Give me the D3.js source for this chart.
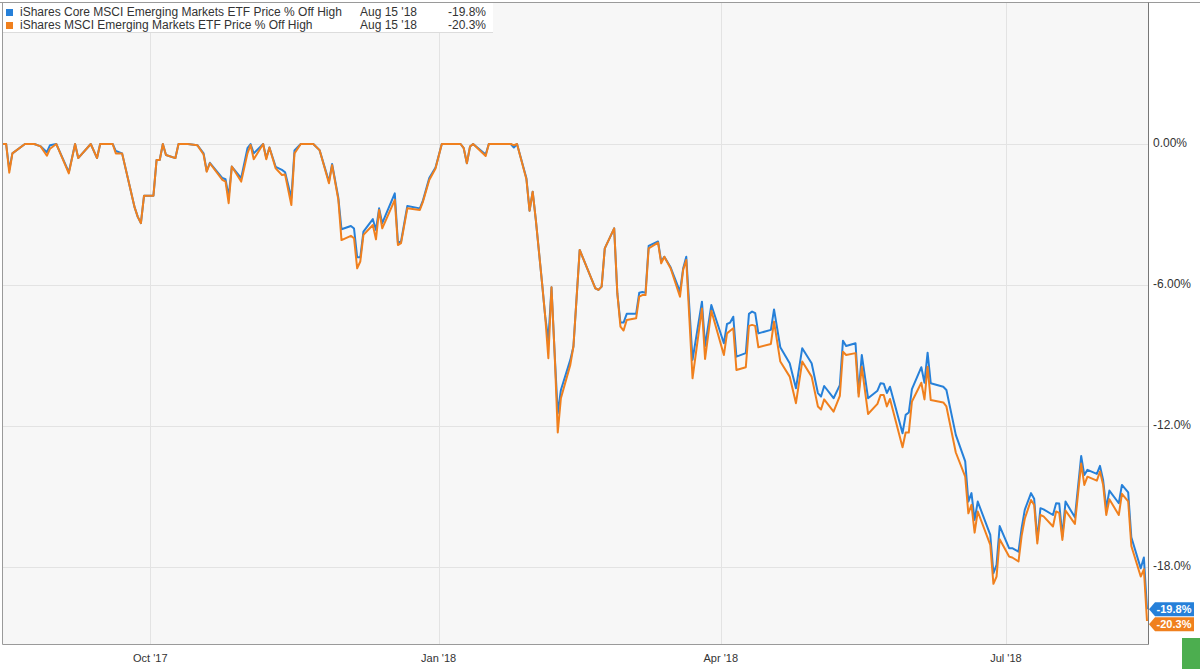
<!DOCTYPE html>
<html>
<head>
<meta charset="utf-8">
<script src="https://cdnjs.cloudflare.com/ajax/libs/d3/7.8.5/d3.min.js"></script>
<style>
  body { margin: 0; background: #fff; }
  svg { display: block; font-family: "Liberation Sans", Arial, sans-serif; }
</style>
</head>
<body>
<div id="chart"></div>
<script>

// trading dates (sampled at the turning points of the lines)
var dates = [
  "2017-08-15","2017-08-16","2017-08-17","2017-08-18","2017-08-22","2017-08-25","2017-08-27","2017-08-29","2017-08-30",
  "2017-09-01","2017-09-05","2017-09-07","2017-09-08","2017-09-12","2017-09-14","2017-09-15","2017-09-19","2017-09-20",
  "2017-09-22","2017-09-26","2017-09-27","2017-09-28","2017-09-29","2017-10-02","2017-10-03","2017-10-04","2017-10-05",
  "2017-10-06","2017-10-09","2017-10-10","2017-10-13","2017-10-16","2017-10-18","2017-10-19","2017-10-20","2017-10-24",
  "2017-10-25","2017-10-26","2017-10-27","2017-10-30","2017-11-01","2017-11-02","2017-11-03","2017-11-06","2017-11-07",
  "2017-11-08","2017-11-10","2017-11-12","2017-11-13","2017-11-15","2017-11-16","2017-11-18","2017-11-22","2017-11-24",
  "2017-11-27","2017-11-28","2017-11-30","2017-12-01","2017-12-04","2017-12-05","2017-12-06","2017-12-07","2017-12-08",
  "2017-12-11","2017-12-12","2017-12-13","2017-12-14","2017-12-18","2017-12-19","2017-12-20","2017-12-22","2017-12-26",
  "2017-12-27","2017-12-29","2017-12-31","2018-01-02","2018-01-08","2018-01-09","2018-01-10","2018-01-11","2018-01-12",
  "2018-01-16","2018-01-17","2018-01-24","2018-01-25","2018-01-26","2018-01-29","2018-01-30","2018-01-31","2018-02-01",
  "2018-02-03","2018-02-04","2018-02-05","2018-02-06","2018-02-07","2018-02-08","2018-02-09","2018-02-12","2018-02-13",
  "2018-02-15","2018-02-20","2018-02-21","2018-02-22","2018-02-23","2018-02-26","2018-02-27","2018-02-28","2018-03-01",
  "2018-03-02","2018-03-05","2018-03-06","2018-03-07","2018-03-08","2018-03-09","2018-03-12","2018-03-13","2018-03-14",
  "2018-03-16","2018-03-19","2018-03-20","2018-03-21","2018-03-23","2018-03-26","2018-03-27","2018-03-29","2018-04-02",
  "2018-04-03","2018-04-04","2018-04-05","2018-04-06","2018-04-09","2018-04-10","2018-04-11","2018-04-12","2018-04-13",
  "2018-04-17","2018-04-18","2018-04-20","2018-04-23","2018-04-25","2018-04-27","2018-04-30","2018-05-02","2018-05-03",
  "2018-05-04","2018-05-07","2018-05-09","2018-05-10","2018-05-11","2018-05-14","2018-05-15","2018-05-16","2018-05-18",
  "2018-05-21","2018-05-22","2018-05-23","2018-05-24","2018-05-25","2018-05-29","2018-05-30","2018-05-31","2018-06-01",
  "2018-06-04","2018-06-05","2018-06-06","2018-06-07","2018-06-11","2018-06-12","2018-06-15","2018-06-18","2018-06-19",
  "2018-06-20","2018-06-21","2018-06-22","2018-06-26","2018-06-27","2018-06-28","2018-06-29","2018-07-02","2018-07-03",
  "2018-07-05","2018-07-06","2018-07-07","2018-07-09","2018-07-10","2018-07-11","2018-07-12","2018-07-13","2018-07-16",
  "2018-07-17","2018-07-18","2018-07-19","2018-07-20","2018-07-23","2018-07-25","2018-07-26","2018-07-27","2018-07-30",
  "2018-07-31","2018-08-01","2018-08-02","2018-08-03","2018-08-06","2018-08-07","2018-08-09","2018-08-10","2018-08-13",
  "2018-08-14","2018-08-15"
];

// iShares Core MSCI Emerging Markets ETF (IEMG), % off high
var coreValues = [
  0,0,-1.1,-0.4,0,0,-0.1,-0.35,-0.05,
  0,-1.2,0,-0.6,0,-0.6,0,0,-0.3,
  -0.4,-2.7,-3.1,-3.37,-2.2,-2.2,-0.68,-0.68,0,
  -0.47,-0.6,0,0,-0.05,-0.4,-1.15,-0.8,-1.45,
  -1.5,-2.24,-0.96,-1.45,-0.18,0,-0.4,0,-0.6,
  -0.15,-0.97,-1.1,-1.2,-2.3,-0.28,0,0,-0.26,
  -1.6,-0.85,-2.3,-3.63,-3.49,-3.6,-4.82,-4.82,-3.73,
  -3.2,-3.66,-2.74,-3.37,-2.1,-4.2,-4.15,-2.64,-2.74,
  -2.4,-1.45,-1.0,0,0,-0.18,-0.82,-0.11,0,
  -0.45,0,0,-0.15,0,-1.46,-2.84,-2.03,-3.23,
  -5.93,-7.35,-8.34,-6.1,-8.9,-11.46,-10.47,-9.19,-8.62,
  -4.51,-6.14,-6.21,-6.07,-4.44,-3.59,-6.35,-7.6,-7.6,
  -7.23,-7.23,-6.33,-6.3,-6.33,-4.34,-4.15,-5.0,-4.8,
  -5.25,-6.28,-5.3,-4.8,-9.19,-6.71,-8.6,-6.85,-8.48,
  -7.66,-7.6,-7.35,-9.05,-8.9,-7.23,-7.13,-7.2,-8.06,
  -7.91,-7.04,-8.65,-9.33,-10.4,-8.69,-9.33,-10.6,-10.75,
  -10.3,-10.82,-10.26,-8.37,-8.6,-8.48,-10.6,-8.98,-10.82,
  -10.5,-10.18,-10.2,-10.6,-10.33,-12.31,-11.53,-11.43,-10.43,
  -9.5,-10.16,-8.88,-10.18,-10.33,-10.47,-12.38,-13.51,-15.22,
  -14.86,-16.0,-15.22,-16.64,-18.27,-17.91,-16.26,-17.2,-17.2,
  -17.35,-16.35,-15.57,-14.86,-15.1,-16.85,-15.5,-15.55,-15.79,
  -15.29,-15.3,-16.7,-15.22,-15.89,-13.28,-14.09,-13.87,-14.04,
  -13.7,-14.3,-15.5,-14.75,-15.29,-14.51,-14.83,-16.74,-18.06,
  -17.6,-19.8
];

// iShares MSCI Emerging Markets ETF (EEM), % off high
var eemValues = [
  0,0,-1.22,-0.4,0,0,-0.1,-0.5,-0.2,
  0,-1.25,0,-0.6,0,-0.6,0,0,-0.4,
  -0.4,-2.7,-3.1,-3.37,-2.2,-2.2,-0.68,-0.68,0,
  -0.47,-0.6,0,0,-0.05,-0.45,-1.18,-0.82,-1.53,
  -1.6,-2.52,-0.96,-1.6,-0.4,-0.04,-0.65,0,-0.65,
  -0.15,-1.04,-1.32,-1.3,-2.6,-0.4,0,0,-0.26,
  -1.67,-0.9,-2.38,-4.09,-3.91,-4.01,-5.29,-5.0,-3.87,
  -3.45,-4.06,-2.81,-3.59,-2.38,-4.3,-4.22,-2.74,-2.81,
  -2.45,-1.53,-1.04,0,0,-0.18,-0.82,-0.11,0,
  -0.51,0,0,-0.05,0,-1.5,-2.84,-2.03,-3.23,
  -5.93,-7.35,-9.12,-6.1,-8.9,-12.28,-10.82,-9.4,-8.62,
  -4.51,-6.14,-6.21,-6.07,-4.44,-3.59,-6.35,-7.77,-7.94,
  -7.49,-7.42,-6.5,-6.43,-6.43,-4.44,-4.2,-5.08,-4.8,
  -5.29,-6.5,-5.36,-4.94,-9.97,-7.0,-9.15,-7.1,-8.98,
  -8.06,-7.95,-7.84,-9.62,-9.5,-7.74,-7.7,-7.74,-8.65,
  -8.51,-7.56,-9.26,-9.9,-11.03,-9.26,-9.9,-11.17,-11.3,
  -10.87,-11.39,-10.72,-8.84,-8.98,-8.9,-10.75,-9.48,-11.49,
  -11.06,-10.68,-10.68,-11.17,-10.85,-12.91,-12.28,-12.28,-10.96,
  -10.16,-10.87,-9.48,-10.9,-11.0,-11.17,-13.13,-14.16,-15.72,
  -15.36,-16.54,-15.64,-17.06,-18.72,-18.41,-16.82,-17.56,-17.6,
  -17.77,-16.68,-15.95,-15.15,-15.36,-17.0,-15.79,-15.85,-16.28,
  -15.64,-15.7,-16.85,-15.6,-16.17,-13.6,-14.51,-14.16,-14.33,
  -13.94,-14.5,-15.79,-15.12,-15.79,-14.89,-15.21,-17.11,-18.41,
  -18.1,-20.3
];

var seriesNames = [
  "iShares Core MSCI Emerging Markets ETF Price % Off High",
  "iShares MSCI Emerging Markets ETF Price % Off High"
];
var seriesColors = ["#2680d9", "#f0801e"];
var lastDateLabel = "Aug 15 '18";

var yTickValues = [0, -6, -12, -18];
var yTickLabels = ["0.00%", "-6.00%", "-12.0%", "-18.0%"];
var xTickDates = ["2017-10-01", "2018-01-01", "2018-04-01", "2018-07-01"];
var xTickLabels = ["Oct '17", "Jan '18", "Apr '18", "Jul '18"];

var width = 1200, height = 669;
var plot = { left: 3, top: 3, right: 1148, bottom: 644 };

var parse = d3.utcParse("%Y-%m-%d");
var pct = function(v) { return v.toFixed(1) + "%"; };

var series = [coreValues, eemValues].map(function(vals, i) {
  return {
    name: seriesNames[i],
    color: seriesColors[i],
    points: dates.map(function(d, j) { return { date: parse(d), value: vals[j] }; })
  };
});

var x = d3.scaleUtc()
  .domain([parse(dates[0]), parse(dates[dates.length - 1])])
  .range([plot.left, plot.right - 1]);
var y = d3.scaleLinear()
  .domain([-21.28, 6.0])
  .range([plot.bottom, plot.top]);

var svg = d3.select("#chart").append("svg")
  .attr("width", width)
  .attr("height", height);

// plot background
svg.append("rect")
  .attr("x", plot.left).attr("y", plot.top)
  .attr("width", plot.right - plot.left).attr("height", plot.bottom - plot.top)
  .attr("fill", "#f7f7f7");

// grid
svg.append("g").selectAll("line")
  .data(yTickValues).enter().append("line")
  .attr("x1", plot.left).attr("x2", plot.right)
  .attr("y1", function(d) { return Math.round(y(d)) + 0.5; })
  .attr("y2", function(d) { return Math.round(y(d)) + 0.5; })
  .attr("stroke", "#e3e3e3");

svg.append("g").selectAll("line")
  .data(xTickDates).enter().append("line")
  .attr("x1", function(d) { return Math.round(x(parse(d))) + 0.5; })
  .attr("x2", function(d) { return Math.round(x(parse(d))) + 0.5; })
  .attr("y1", plot.top).attr("y2", plot.bottom)
  .attr("stroke", "#e3e3e3");

// lines
var line = d3.line()
  .x(function(d) { return x(d.date); })
  .y(function(d) { return y(d.value); });

svg.append("g").selectAll("path")
  .data(series).enter().append("path")
  .attr("d", function(d) { return line(d.points); })
  .attr("fill", "none")
  .attr("stroke", function(d) { return d.color; })
  .attr("stroke-width", 2)
  .attr("stroke-linejoin", "round");

// borders
svg.append("line")
  .attr("x1", 0).attr("x2", width).attr("y1", 2.5).attr("y2", 2.5)
  .attr("stroke", "#9a9a9a");
svg.append("line")
  .attr("x1", 2.5).attr("x2", 2.5).attr("y1", 2.5).attr("y2", plot.bottom + 0.5)
  .attr("stroke", "#9a9a9a");
svg.append("line")
  .attr("x1", 2.5).attr("x2", plot.right + 0.5).attr("y1", plot.bottom + 0.5).attr("y2", plot.bottom + 0.5)
  .attr("stroke", "#9a9a9a");
svg.append("line")
  .attr("x1", plot.right + 0.5).attr("x2", plot.right + 0.5).attr("y1", 2.5).attr("y2", plot.bottom + 0.5)
  .attr("stroke", "#777");

// right axis labels
svg.append("g").selectAll("text")
  .data(yTickValues).enter().append("text")
  .attr("x", plot.right + 5)
  .attr("y", function(d) { return y(d) - 1; })
  .attr("dy", "0.35em")
  .attr("font-size", 12)
  .attr("fill", "#333")
  .text(function(d, i) { return yTickLabels[i]; });

// bottom axis labels
svg.append("g").selectAll("text")
  .data(xTickDates).enter().append("text")
  .attr("x", function(d) { return x(parse(d)); })
  .attr("y", 662)
  .attr("text-anchor", "middle")
  .attr("font-size", 11)
  .attr("fill", "#333")
  .text(function(d, i) { return xTickLabels[i]; });

// last value badges
var badgeY = [];
series.forEach(function(s, i) {
  var last = s.points[s.points.length - 1];
  var by = y(last.value);
  if (i > 0 && by < badgeY[i - 1] + 15) by = badgeY[i - 1] + 15;
  badgeY.push(by);
});

var badges = svg.append("g").selectAll("g")
  .data(series).enter().append("g")
  .attr("transform", function(d, i) { return "translate(" + (plot.right + 1) + "," + badgeY[i] + ")"; });
badges.append("path")
  .attr("d", "M0,0 L6,-7 L45,-7 L45,7 L6,7 Z")
  .attr("fill", function(d) { return d.color; });
badges.append("text")
  .attr("x", 25).attr("dy", "0.36em")
  .attr("text-anchor", "middle")
  .attr("font-size", 11).attr("font-weight", "bold")
  .attr("fill", "#fff")
  .text(function(d) { return pct(d.points[d.points.length - 1].value); });

// legend
var legend = svg.append("g");
legend.append("rect")
  .attr("x", 3).attr("y", 3).attr("width", 490).attr("height", 29)
  .attr("fill", "#fff");
legend.append("line")
  .attr("x1", 3).attr("x2", 493).attr("y1", 32.5).attr("y2", 32.5)
  .attr("stroke", "#dcdcdc");

var rows = legend.selectAll("g.row")
  .data(series).enter().append("g")
  .attr("class", "row")
  .attr("transform", function(d, i) { return "translate(0," + (i * 13) + ")"; });
rows.append("rect")
  .attr("x", 6).attr("y", 9).attr("width", 7).attr("height", 7)
  .attr("fill", function(d) { return d.color; });
rows.append("text")
  .attr("x", 20).attr("y", 16)
  .attr("font-size", 12).attr("fill", "#333")
  .text(function(d) { return d.name; });
rows.append("text")
  .attr("x", 360).attr("y", 16)
  .attr("font-size", 12).attr("fill", "#333")
  .text(lastDateLabel);
rows.append("text")
  .attr("x", 448).attr("y", 16)
  .attr("font-size", 12).attr("fill", "#333")
  .text(function(d) { return pct(d.points[d.points.length - 1].value); });

// corner button
svg.append("rect")
  .attr("x", 1182).attr("y", 638).attr("width", 18).attr("height", 31)
  .attr("fill", "#4cae4f");

</script>
</body>
</html>
